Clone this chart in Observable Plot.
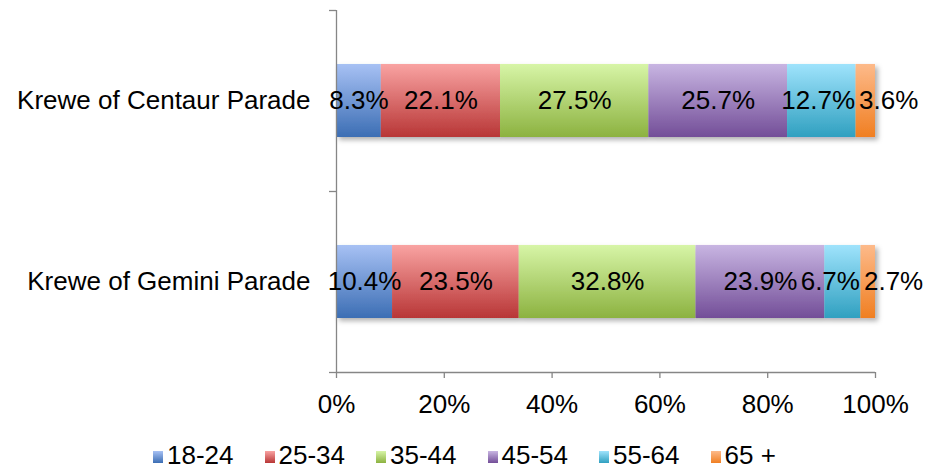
<!DOCTYPE html>
<html>
<head>
<meta charset="utf-8">
<script src="https://cdn.jsdelivr.net/npm/d3@7"></script>
<script src="https://cdn.jsdelivr.net/npm/@observablehq/plot@0.6"></script>
<style>
  html, body { margin: 0; padding: 0; background: #fff; }
  body { width: 929px; height: 470px; position: relative; overflow: hidden; font-family: "Liberation Sans", Arial, sans-serif; }
  #chart { position: absolute; left: 0; top: 0; }
  #legend { position: absolute; left: 153px; top: 441px; height: 29px; display: flex; align-items: center; gap: 31px; font-size: 26px; line-height: 29px; color: #000; white-space: nowrap; }
  #legend .item { display: flex; align-items: center; }
  #legend .sw { width: 10px; height: 12px; margin-right: 4px; margin-top: 2px; }
</style>
</head>
<body>
<div id="chart"></div>
<div id="legend"></div>
<script>
const parades = ["Krewe of Centaur Parade", "Krewe of Gemini Parade"];
const ageGroups = ["18-24", "25-34", "35-44", "45-54", "55-64", "65 +"];
const centaurValues = [8.3, 22.1, 27.5, 25.7, 12.7, 3.6];
const geminiValues = [10.4, 23.5, 32.8, 23.9, 6.7, 2.7];
const xTicks = [0, 0.2, 0.4, 0.6, 0.8, 1];

const gradTop = ["#a7c1f4", "#f9a3a2", "#d7f5a7", "#c8b5e2", "#9fe3fc", "#fdba8a"];
const gradBottom = ["#3c6eb4", "#b83636", "#8cb240", "#734e98", "#30a0c0", "#f07f22"];
const gradIds = ageGroups.map((_, i) => `url(#grad${i})`);

// Build table (stacked, normalized) from the arrays
const seriesByParade = [centaurValues, geminiValues];
const rows = [];
parades.forEach((p, pi) => {
  const vals = seriesByParade[pi];
  const total = d3.sum(vals);
  let acc = 0;
  vals.forEach((v, ai) => {
    const x1 = acc / total;
    acc += v;
    const x2 = acc / total;
    rows.push({parade: p, age: ageGroups[ai], ai, value: v, x1, x2, yc: pi + 0.5});
  });
});

// labels: the last two narrow segments get pushed apart (as the spreadsheet does)
const nA = ageGroups.length;
const midRows = rows.filter(d => d.ai < nA - 2);
const endRows = rows.filter(d => d.ai === nA - 2);
const lastRows = rows.filter(d => d.ai === nA - 1);
const fmt = d => d.value.toFixed(1) + "%";

const half = 0.2017;
const gray = "#868686";

const chart = Plot.plot({
  width: 929,
  height: 440,
  marginLeft: 336,
  marginRight: 54,
  marginTop: 10,
  marginBottom: 68,
  style: {fontFamily: "'Liberation Sans', Arial, sans-serif", fontSize: "26px", color: "#000", background: "transparent"},
  x: {domain: [0, 1], label: null},
  y: {domain: [0, 2], reverse: true, label: null},
  color: {domain: ageGroups, range: gradIds},
  marks: [
    Plot.rectX(rows, {x1: "x1", x2: "x2", y1: d => d.yc - half, y2: d => d.yc + half, fill: "age"}),
    Plot.ruleX([0], {stroke: gray, strokeWidth: 1.3}),
    Plot.ruleY([2], {stroke: gray, strokeWidth: 1.3}),
    Plot.axisY({ticks: [0, 1, 2], tickFormat: () => "", tickSize: 7, stroke: gray, strokeWidth: 1.3, label: null}),
    Plot.axisY({ticks: [0.5, 1.5], tickFormat: i => parades[Math.floor(i)], tickSize: 0, tickPadding: 26, fill: "#000", label: null}),
    Plot.axisX({ticks: xTicks, tickFormat: () => "", tickSize: 6, stroke: gray, strokeWidth: 1.3, label: null}),
    Plot.axisX({ticks: xTicks, tickFormat: d3.format(".0%"), tickSize: 0, tickPadding: 22, fill: "#000", label: null}),
    Plot.text(midRows, {x: d => (d.x1 + d.x2) / 2, y: "yc", text: fmt, fill: "#000", fontSize: 26}),
    Plot.text(endRows, {x: "x2", y: "yc", text: fmt, fill: "#000", fontSize: 26, textAnchor: "end", dx: -1}),
    Plot.text(lastRows, {x: "x1", y: "yc", text: fmt, fill: "#000", fontSize: 26, textAnchor: "start", dx: 3})
  ]
});

// gradient + shadow definitions
const svg = d3.select(chart);
const defs = svg.insert("defs", ":first-child");
ageGroups.forEach((_, i) => {
  const g = defs.append("linearGradient").attr("id", `grad${i}`).attr("x1", 0).attr("y1", 0).attr("x2", 0).attr("y2", 1);
  g.append("stop").attr("offset", "0%").attr("stop-color", gradTop[i]);
  g.append("stop").attr("offset", "100%").attr("stop-color", gradBottom[i]);
});
const f = defs.append("filter").attr("id", "shadow").attr("x", "-10%").attr("y", "-20%").attr("width", "130%").attr("height", "160%");
f.append("feDropShadow").attr("dx", 3).attr("dy", 3).attr("stdDeviation", 2.5).attr("flood-color", "#000").attr("flood-opacity", 0.3);
svg.select("g[aria-label='rect']").attr("filter", "url(#shadow)");

document.getElementById("chart").appendChild(chart);

// legend
const legend = d3.select("#legend");
ageGroups.forEach((a, i) => {
  const item = legend.append("div").attr("class", "item");
  item.append("div").attr("class", "sw").style("background", `linear-gradient(to bottom, ${gradTop[i]}, ${gradBottom[i]})`);
  item.append("span").text(a);
});
</script>
</body>
</html>
